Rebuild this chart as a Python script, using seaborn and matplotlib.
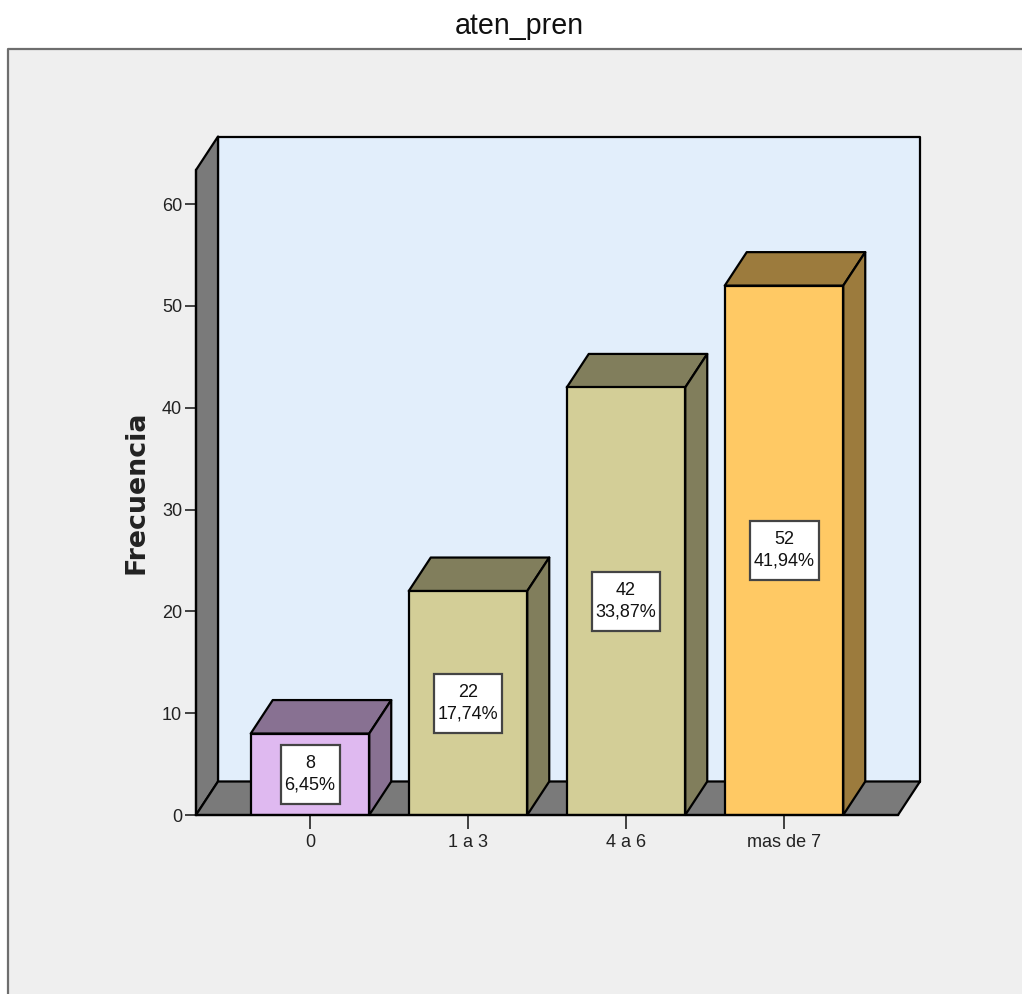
import matplotlib
matplotlib.use("Agg")
import matplotlib.pyplot as plt
from matplotlib.patches import Polygon, Rectangle
from matplotlib.lines import Line2D
from matplotlib.colors import to_rgb
import seaborn as sns

# Chart data
categories = ["0", "1 a 3", "4 a 6", "mas de 7"]
frequencies = [8, 22, 42, 52]
percent_labels = ["6,45%", "17,74%", "33,87%", "41,94%"]
y_ticks = [0, 10, 20, 30, 40, 50, 60]

# Styling
bar_colors = ["#DFB9F0", "#D3CE97", "#D3CE97", "#FFC964"]
panel_color = "#EFEFEF"
wall_color = "#E2EEFB"
shade_color = "#7A7A7A"
W, H = 1022, 994
x_scale = 158.0    # pixels per category
y_scale = 10.18    # pixels per frequency unit

sns.set_theme(style="white")
plt.rcParams["font.family"] = ["Liberation Sans", "DejaVu Sans"]

fig = plt.figure(figsize=(W / 100, H / 100), dpi=100, facecolor="white")

# Outer panel with its grey top and left rules
fig.add_artist(Rectangle((8 / W, 0), 1 - 8 / W, 1 - 49 / H, transform=fig.transFigure,
                         facecolor=panel_color, edgecolor="none", zorder=-5))
fig.add_artist(Line2D([8 / W, 8 / W, 1], [0, 1 - 49 / H, 1 - 49 / H], transform=fig.transFigure,
                      color="#6E6E6E", lw=1.6, zorder=-4))

ax = fig.add_axes([196 / W, 1 - 815 / H, (898 - 196) / W, (815 - 170) / H])
ax.patch.set_alpha(0)

# Front faces of the bars
sns.barplot(x=categories, y=frequencies, hue=categories, palette=bar_colors, width=0.75,
            edgecolor="black", linewidth=1.6, legend=False, saturation=1, ax=ax, zorder=4)

ax.set_xlim(-114 / x_scale, (898 - 310) / x_scale)
ax.set_ylim(0, 645 / y_scale)

# Oblique depth of the box, in data units
dx = 22 / x_scale
dy = 33.5 / y_scale
x0, x1 = ax.get_xlim()
y1 = ax.get_ylim()[1]
edge = dict(edgecolor="black", linewidth=1.6, clip_on=False, joinstyle="round")

# Back wall, side wall and floor
ax.add_patch(Polygon([(x0 + dx, dy), (x1 + dx, dy), (x1 + dx, y1 + dy), (x0 + dx, y1 + dy)],
                     facecolor=wall_color, zorder=1, **edge))
ax.add_patch(Polygon([(x0, 0), (x0 + dx, dy), (x0 + dx, y1 + dy), (x0, y1)],
                     facecolor=shade_color, zorder=2, **edge))
ax.add_patch(Polygon([(x0, 0), (x1, 0), (x1 + dx, dy), (x0 + dx, dy)],
                     facecolor=shade_color, zorder=2, **edge))

# Top and side faces of each bar, plus the value boxes
half = 0.375
renderer = fig.canvas.get_renderer()
for i, (value, pct, color) in enumerate(zip(frequencies, percent_labels, bar_colors)):
    dark = tuple(c * 0.61 for c in to_rgb(color))
    ax.add_patch(Polygon([(i - half, value), (i + half, value), (i + half + dx, value + dy), (i - half + dx, value + dy)],
                         facecolor=dark, zorder=3, **edge))
    ax.add_patch(Polygon([(i + half, 0), (i + half + dx, dy), (i + half + dx, value + dy), (i + half, value)],
                         facecolor=dark, zorder=3, **edge))
    label = ax.text(i, value / 2, f"{value}\n{pct}", ha="center", va="center", ma="center", fontsize=13,
                    color="#111111", linespacing=1.34, zorder=6)
    box_w = (label.get_window_extent(renderer).width + 8) / x_scale
    box_h = 59 / y_scale
    ax.add_patch(Rectangle((i - box_w / 2, value / 2 - box_h / 2), box_w, box_h, facecolor="white",
                           edgecolor="#444444", linewidth=1.6, zorder=5))

# Axes, ticks and labels
sns.despine(ax=ax, top=True, right=True)
for side in ("left", "bottom"):
    ax.spines[side].set_color("black")
    ax.spines[side].set_linewidth(1.6)
    ax.spines[side].set_zorder(7)
ax.set_yticks(y_ticks)
ax.set_xticks(range(len(categories)))
ax.set_xticklabels(categories)
ax.tick_params(axis="x", length=10, width=1.2, color="#222222", pad=4, bottom=True)
ax.tick_params(axis="y", length=8, width=1.2, color="#222222", pad=2, left=True)
for tick_label in ax.get_xticklabels() + ax.get_yticklabels():
    tick_label.set_fontsize(13)
    tick_label.set_color("#222222")

ax.set_xlabel("")
ax.set_ylabel("")
fig.text(137 / W, 1 - 492.5 / H, "Frecuencia", rotation=90, ha="center", va="center",
         family="DejaVu Sans", fontweight="bold", fontsize=19.4, color="#222222")
fig.text(519.5 / W, 1 - 26 / H, "aten_pren", ha="center", va="center", fontsize=20.6, color="#111111")

fig.savefig("out.png", dpi=100, facecolor="white")
